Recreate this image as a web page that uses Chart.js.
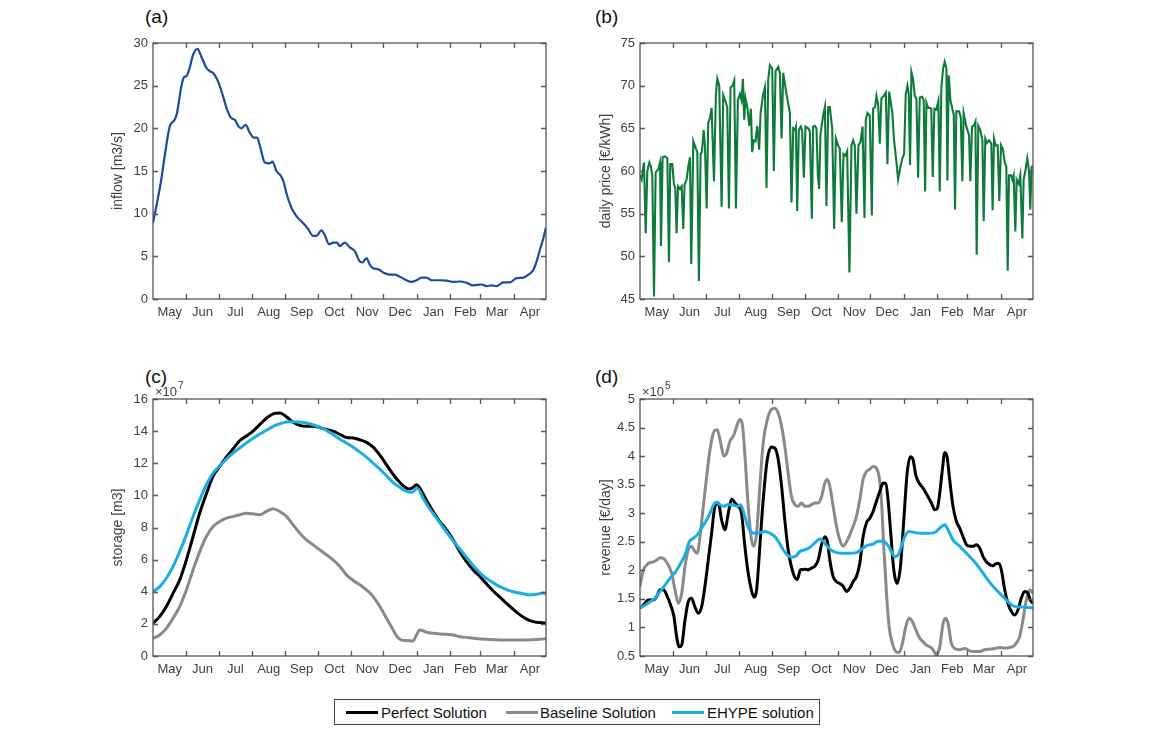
<!DOCTYPE html>
<html>
<head>
<meta charset="utf-8">
<script src="https://cdn.jsdelivr.net/npm/chart.js@4.4.1/dist/chart.umd.min.js"></script>
<style>
  html, body { margin:0; padding:0; background:#fff; }
  body { width:1150px; height:730px; position:relative; overflow:hidden; font-family:"Liberation Sans", Arial, sans-serif; }
  canvas { position:absolute; }
  .tag { position:absolute; font-size:19px; line-height:22px; color:#111; }
  #legend { position:absolute; left:334px; top:699px; width:486px; height:26px; border:1px solid #444; box-sizing:border-box; background:#fff; }
  #legend .sw { position:absolute; top:11px; height:3px; width:32px; }
  #legend .tx { position:absolute; top:4px; font-size:15px; line-height:18px; color:#111; white-space:nowrap; }
</style>
</head>
<body>
<div class="tag" style="left:145px;top:6px;">(a)</div>
<div class="tag" style="left:595px;top:6px;">(b)</div>
<div class="tag" style="left:145px;top:366px;">(c)</div>
<div class="tag" style="left:595px;top:366px;">(d)</div>
<div id="legend"></div>
<script>
// ---------- axis categories ----------
const monthLabels = ['May','Jun','Jul','Aug','Sep','Oct','Nov','Dec','Jan','Feb','Mar','Apr'];
const monthLengths = [31,30,31,31,30,31,30,31,31,28,31,30];

// ---------- (a) inflow [m3/s] ----------
const inflowDays = [0,3.7,7.7,10.8,15.5,20.1,22.3,26.3,28.8,31.0,34.1,37.2,41.2,44.9,49.6,52.7,56.4,60.4,65.1,68.8,72.8,75.9,79.6,82.1,86.1,89.8,93.6,96.7,99.8,103.8,108.4,110.9,114.6,118.3,121.4,123.9,128.6,133.2,139.4,144.1,148.7,151.8,156.4,159.5,163.6,167.3,171.0,173.5,178.1,182.8,187.4,192.1,194.5,198.3,201.4,204.5,209.1,213.8,220.0,224.6,229.3,235.4,240.1,244.7,249.4,254.0,258.7,266.4,272.6,278.8,285.0,291.2,297.4,305.2,309.8,314.4,319.1,325.3,331.5,337.7,343.9,348.5,353.2,356.3,359.4,362.5,365];
const inflowValues = [8.9,11.25,14.0,16.7,20.2,21.0,21.8,24.9,26.0,26.1,27.1,28.6,29.3,28.4,27.1,26.7,26.4,25.5,23.75,22.2,21.2,21.0,20.2,20.0,20.4,19.5,18.9,18.9,17.7,16.0,15.9,16.1,15.0,14.5,13.7,12.4,10.7,9.7,8.9,8.2,7.4,7.4,8.05,7.5,6.4,6.6,6.6,6.2,6.6,6.05,5.6,4.4,4.3,4.8,4.0,3.6,3.5,3.1,2.85,2.85,2.6,2.2,2.0,2.2,2.5,2.5,2.2,2.2,2.15,2.0,2.05,1.9,1.6,1.7,1.5,1.6,1.5,1.95,1.95,2.45,2.5,2.85,3.4,4.4,5.8,7.1,8.4];

// ---------- (b) daily price [€/kWh] ----------
const priceDays = [0,1.5,3.7,5.3,6.8,8.7,10.2,11.4,13.0,14.5,17.0,18.6,19.5,21.0,23.2,25.4,26.9,28.1,30.0,31.5,32.8,34.0,35.3,37.1,38.7,40.2,41.4,43.3,44.8,46.4,47.6,49.5,52.0,53.2,54.7,56.3,57.5,59.1,60.3,61.9,63.4,65.0,66.5,68.7,70.5,71.8,73.6,75.8,77.3,79.8,81.0,82.6,84.1,86.0,87.5,89.1,90.9,92.8,94.3,95.6,96.8,98.0,99.9,101.5,103.0,104.2,105.5,107.3,108.9,110.7,112.0,114.4,116.0,117.5,119.1,120.6,122.8,124.3,125.9,128.4,129.9,131.5,133.0,136.1,139.2,140.7,142.3,143.8,144.8,146.0,147.5,149.4,150.6,152.2,153.7,156.2,157.7,159.6,160.8,162.4,163.9,165.2,166.4,167.6,170.1,171.7,173.2,174.8,176.3,178.5,180.3,181.9,184.0,185.6,187.4,189.0,190.8,192.4,194.5,196.4,198.0,199.5,201.0,202.9,204.8,206.7,208.5,209.7,211.3,213.4,215.3,216.5,218.4,219.6,221.2,222.7,224.2,226.4,228.3,229.8,231.4,232.9,234.4,235.7,236.9,238.2,239.7,241.9,243.7,245.3,246.8,248.4,249.6,250.8,252.1,253.6,255.2,256.7,258.3,259.8,262.0,263.5,264.8,266.0,267.5,269.1,270.5,271.9,273.4,275.3,277.1,278.4,279.9,281.5,283.0,284.6,285.5,286.7,288.3,290.1,291.4,292.6,293.8,296.3,297.9,299.4,300.6,303.1,305.6,306.8,308.4,309.9,311.5,312.7,314.2,316.1,318.0,319.2,320.7,322.3,324.2,326.3,327.5,328.8,330.3,332.2,333.7,335.3,337.1,338.7,340.2,341.5,342.7,344.6,345.8,347.0,348.6,349.8,351.7,353.2,355.1,356.3,357.9,359.7,361.3,362.5,363.7,365];
const priceValues = [59.5,59,61,52.7,60,61,60.5,59.5,45.3,59.8,60.2,61,51.2,61.6,61.7,61.5,49.3,60.8,60.8,58.5,57.9,52.7,58.2,57.9,58.2,53.2,58.4,59,60.5,61.6,49.1,63.5,62.6,62.2,47.1,62,62.2,64.8,63,55.6,65.7,66.2,67.4,58.8,69,70.8,70,55.8,68.9,68,67.5,55.6,69.8,70,70.6,55.6,68.3,69,68.3,70.8,66,68.5,67.3,65.3,67.3,62.2,63.6,63.5,65.3,62.5,66.8,69,69.8,58,70.7,72.4,72,60,71.7,72.2,71.5,63.8,71.5,69,66.8,56.3,65,64.8,65.2,55.3,64.8,65.2,64.7,59.2,65.2,65,64.7,54.4,65.2,65.3,65,59.5,57.9,64.3,66.5,67.5,55.9,67.5,67.5,65,53.2,63.8,63,62.6,54,62,61.8,62.3,48.1,63,63.6,63,55,63,63.4,65.2,54.5,66,66.8,66.5,54.8,67.3,67.5,68.8,67.8,63.2,68.5,68.8,69.2,60.8,69.3,68,66.8,64,62.5,61,59,60.5,61.5,62,69,70,69,60.7,71.6,70.8,68.8,68.5,59.2,68.6,68.7,68.3,57.6,68,67.4,67.4,67.3,59.3,67.3,67.2,68.2,57.6,69.8,72,72.8,72,58.9,71.2,68.3,67.3,66.6,55.5,67,67,66.3,58.8,66.8,65.2,64.2,58.8,65.2,65.3,65.8,50.2,65.3,64.8,63.6,54.1,63.8,63.3,63.6,63.2,55.4,63.8,63,63,56.5,63,62.5,61,60.5,48.3,59.5,59.5,59,59.5,52.9,59,58.5,59.5,52.1,59,60,61.5,60,55.5,60.5,60.5];

// ---------- (c) storage [m3] (x 1e7) ----------
const storagePerfectDays = [0,6.2,12.4,18.6,24.8,31.0,37.2,43.4,49.6,55.8,62.0,68.2,74.4,80.5,86.7,92.9,99.1,105.3,111.5,117.7,123.9,130.1,136.3,142.5,148.7,154.9,161.1,167.3,173.5,179.7,185.9,192.1,198.3,204.5,210.7,216.9,223.1,229.3,235.4,238.5,241.6,244.7,247.8,254.0,260.2,266.4,272.6,278.8,285.0,291.2,297.4,303.6,309.8,316.0,322.2,328.4,334.6,340.8,347.0,353.2,359.4,365];
const storagePerfect = [2.04,2.45,3.08,3.9,4.74,5.98,7.44,8.9,10.1,11.2,11.8,12.4,12.9,13.4,13.7,14.0,14.4,14.8,15.07,15.13,14.9,14.55,14.36,14.3,14.3,14.23,14.1,14.0,13.8,13.6,13.57,13.46,13.3,13.0,12.5,11.9,11.3,10.8,10.45,10.4,10.5,10.66,10.45,9.7,9.0,8.37,7.85,7.23,6.5,5.88,5.36,4.95,4.49,4.05,3.66,3.28,2.9,2.56,2.3,2.14,2.08,2.04];
const storageBaselineDays = [0,6.2,12.4,18.6,24.8,31.0,37.2,43.4,49.6,55.8,62.0,68.2,74.4,80.5,86.7,92.9,99.1,105.3,111.5,117.7,123.9,130.1,136.3,142.5,148.7,154.9,161.1,167.3,173.5,179.7,185.9,192.1,198.3,204.5,210.7,216.9,223.1,226.2,229.3,235.4,241.6,244.7,247.8,254.0,260.2,266.4,272.6,278.8,285.0,291.2,297.4,309.8,322.2,334.6,347.0,359.4,365];
const storageBaseline = [1.1,1.31,1.72,2.35,3.08,4.11,5.36,6.5,7.44,8.06,8.37,8.58,8.69,8.79,8.89,8.85,8.79,9.0,9.16,9.0,8.69,8.17,7.65,7.23,6.92,6.61,6.3,5.98,5.57,5.05,4.7,4.43,4.11,3.7,3.08,2.35,1.62,1.25,1.04,0.96,0.94,1.31,1.62,1.48,1.41,1.37,1.35,1.31,1.2,1.16,1.1,1.04,1.0,1.0,1.0,1.04,1.08];
const storageEhypeDays = [0,6.2,12.4,18.6,24.8,31.0,37.2,43.4,49.6,55.8,62.0,68.2,74.4,80.5,86.7,92.9,99.1,105.3,111.5,117.7,123.9,130.1,136.3,142.5,148.7,154.9,161.1,167.3,173.5,179.7,185.9,192.1,198.3,204.5,210.7,216.9,223.1,229.3,235.4,241.0,245.5,250.9,257.1,263.3,269.5,275.7,281.9,288.1,294.3,300.5,306.7,312.9,319.1,325.3,331.5,337.7,343.9,350.1,356.3,360.9,365];
const storageEhype = [4.0,4.32,4.84,5.57,6.5,7.54,8.69,9.72,10.66,11.39,11.84,12.26,12.63,12.95,13.26,13.55,13.82,14.05,14.3,14.46,14.57,14.59,14.57,14.5,14.4,14.23,14.05,13.78,13.5,13.26,13.0,12.7,12.38,12.0,11.64,11.22,10.8,10.5,10.25,10.2,10.45,9.8,9.15,8.58,8.0,7.44,6.92,6.4,5.88,5.4,4.99,4.68,4.43,4.22,4.05,3.95,3.87,3.8,3.84,3.9,3.9];

// ---------- (d) revenue [€/day] (x 1e5) ----------
const revPerfectDays = [0,3.1,7.7,12.4,15.5,18.6,21.7,25.4,28.5,31.5,34.0,36.5,38.7,41.8,44.8,47.9,51.0,54.1,57.2,60.3,63.4,66.5,69.6,72.7,75.8,78.9,82.0,85.1,88.2,91.2,94.3,96.8,99.6,102.7,105.8,108.3,111.3,114.4,118.2,122.2,125.3,128.4,131.5,134.5,137.6,142.3,146.0,149.1,153.1,156.2,159.3,162.4,165.5,168.6,171.7,174.1,176.3,179.4,182.5,185.6,188.7,191.8,194.9,197.9,201.0,204.1,207.2,210.3,213.4,216.5,219.6,222.7,225.8,228.3,230.4,232.9,235.7,238.8,241.9,245.0,248.1,251.1,253.6,256.1,259.2,262.9,266.6,270.6,273.7,276.2,278.4,280.8,283.0,285.2,287.6,290.7,293.8,296.9,300.0,303.1,306.2,309.3,312.4,315.5,318.6,321.7,324.8,327.9,330.9,333.4,335.6,338.7,341.8,344.9,348.0,351.1,354.1,357.2,360.3,362.5,365];
const revPerfect = [1.34,1.39,1.48,1.48,1.54,1.66,1.66,1.54,1.39,1.19,0.84,0.66,0.69,1.13,1.45,1.51,1.36,1.25,1.36,1.72,2.18,2.65,3.12,3.18,2.88,2.71,3.0,3.25,3.18,3.12,3.0,2.53,2.07,1.72,1.53,1.66,2.42,3.23,3.94,4.16,4.14,3.94,3.47,2.88,2.36,1.95,1.84,2.01,2.02,2.01,2.04,2.07,2.18,2.45,2.59,2.5,2.18,1.89,1.8,1.77,1.72,1.63,1.69,1.8,1.89,2.12,2.59,2.83,2.91,3.03,3.21,3.38,3.53,3.52,3.23,2.65,2.01,1.77,2.07,2.88,3.7,3.99,3.94,3.67,3.53,3.44,3.32,3.18,3.06,3.09,3.35,3.76,4.06,3.99,3.59,3.12,2.86,2.74,2.59,2.45,2.42,2.42,2.45,2.39,2.24,2.15,2.1,2.08,2.12,2.12,2.01,1.66,1.42,1.28,1.22,1.31,1.51,1.63,1.6,1.48,1.42];
const revBaselineDays = [0,3.1,7.7,12.4,15.5,18.6,21.7,25.4,29.4,32.5,35.6,38.7,41.8,44.8,47.9,51.0,53.2,55.7,58.8,61.9,65.0,68.7,71.8,74.9,77.9,80.4,83.5,87.2,89.7,92.8,95.3,97.7,100.5,103.6,105.8,108.3,111.3,114.4,118.2,122.2,125.3,128.4,131.5,134.5,137.6,140.7,143.8,146.9,150.0,153.1,156.2,159.3,162.4,165.5,168.6,171.7,174.1,176.3,179.4,182.5,185.6,188.7,191.8,194.9,197.9,201.0,204.1,207.2,210.3,213.4,216.5,219.6,222.1,224.2,226.4,228.9,231.4,234.4,237.5,240.6,243.7,246.8,249.9,253.0,256.1,259.8,262.9,266.0,269.1,272.2,275.3,278.4,281.5,283.9,286.1,289.2,292.3,296.9,301.6,306.2,310.8,315.5,320.1,324.8,329.4,334.0,338.7,343.3,348.0,352.6,355.7,358.8,361.9,365];
const revBaseline = [1.72,2.0,2.12,2.15,2.18,2.22,2.21,2.12,1.95,1.66,1.42,1.6,2.07,2.36,2.42,2.33,2.3,2.59,3.12,3.64,4.11,4.43,4.46,4.23,4.0,4.05,4.26,4.37,4.52,4.64,4.52,3.94,3.12,2.53,2.42,2.65,3.47,4.23,4.64,4.82,4.84,4.75,4.52,4.17,3.7,3.29,3.15,3.12,3.18,3.12,3.12,3.15,3.18,3.18,3.29,3.53,3.59,3.47,3.12,2.77,2.53,2.42,2.5,2.62,2.77,2.94,3.23,3.59,3.73,3.77,3.82,3.79,3.64,3.23,2.42,1.6,1.01,0.72,0.58,0.56,0.72,1.01,1.16,1.1,0.96,0.81,0.75,0.69,0.66,0.61,0.52,0.66,1.07,1.16,1.07,0.72,0.63,0.61,0.63,0.59,0.58,0.58,0.61,0.62,0.63,0.65,0.64,0.65,0.69,0.84,1.13,1.48,1.66,1.6];
const revEhypeDays = [0,4.6,9.3,13.9,18.6,23.2,27.8,32.5,37.1,41.8,45.8,49.5,53.2,57.2,61.9,65.6,68.7,71.8,74.9,77.9,81.0,84.1,87.2,90.3,93.4,96.5,99.6,102.7,106.7,111.3,116.0,120.6,125.3,129.3,133.0,136.7,140.7,144.8,148.5,153.1,157.7,162.4,167.0,170.1,173.8,177.8,182.5,188.7,194.9,201.0,205.7,210.3,216.5,221.1,225.8,229.8,233.5,236.6,239.7,242.8,245.9,249.9,255.2,261.4,267.5,273.7,278.4,283.0,286.1,290.7,295.4,300.0,306.2,312.4,318.6,324.8,330.9,337.1,341.8,346.4,351.1,355.7,360.3,365];
const revEhype = [1.34,1.39,1.45,1.51,1.63,1.74,1.86,1.96,2.1,2.27,2.5,2.56,2.62,2.74,2.88,3.03,3.16,3.19,3.14,3.12,3.15,3.15,3.14,3.12,3.15,3.0,2.8,2.68,2.65,2.66,2.68,2.65,2.59,2.48,2.36,2.27,2.23,2.25,2.33,2.36,2.4,2.48,2.55,2.51,2.42,2.35,2.31,2.3,2.3,2.31,2.37,2.43,2.46,2.51,2.51,2.45,2.33,2.24,2.27,2.42,2.59,2.68,2.66,2.65,2.65,2.66,2.74,2.8,2.71,2.53,2.45,2.36,2.24,2.11,1.95,1.79,1.66,1.54,1.45,1.38,1.36,1.36,1.35,1.34];

// ---------- styles ----------
const FONT = '"Liberation Sans", Arial, sans-serif';
const AXIS_COLOR = '#555555';
const TEXT_COLOR = '#404040';
const C_INFLOW = '#1d4b9d';
const C_PRICE = '#0e7a3c';
const C_PERFECT = '#000000';
const C_BASELINE = '#8a8a8a';
const C_EHYPE = '#1aaee5';

// month boundaries and centres (day index from 1 May)
const monthStarts = [];
const monthMids = [];
{ let s = 0; monthLengths.forEach(len => { monthStarts.push(s); monthMids.push(s + len / 2); s += len; }); monthStarts.push(s); }

const pts = (xs, ys) => xs.map((x, i) => ({ x, y: ys[i] }));

const frameTicks = {
  id: 'frameTicks',
  afterDatasetsDraw(chart, args, opts) {
    const { ctx, chartArea: a, scales: { x, y } } = chart;
    const TL = 5;
    ctx.save();
    ctx.strokeStyle = AXIS_COLOR;
    ctx.lineWidth = 1.3;
    ctx.beginPath();
    monthStarts.slice(1, -1).forEach(d => {
      const px = Math.round(x.getPixelForValue(d)) + 0.5;
      ctx.moveTo(px, a.bottom); ctx.lineTo(px, a.bottom - TL);
      ctx.moveTo(px, a.top); ctx.lineTo(px, a.top + TL);
    });
    y.ticks.forEach(t => {
      const py = Math.round(y.getPixelForValue(t.value)) + 0.5;
      ctx.moveTo(a.left, py); ctx.lineTo(a.left + TL, py);
      ctx.moveTo(a.right, py); ctx.lineTo(a.right - TL, py);
    });
    ctx.stroke();
    ctx.strokeRect(a.left, a.top, a.right - a.left, a.bottom - a.top);
    if (opts && opts.exp) {
      ctx.fillStyle = TEXT_COLOR;
      ctx.textBaseline = 'alphabetic';
      ctx.textAlign = 'left';
      ctx.font = '13px ' + FONT;
      const base = '\u00d710';
      ctx.fillText(base, a.left + 2, a.top - 3);
      const w = ctx.measureText(base).width;
      ctx.font = '10px ' + FONT;
      ctx.fillText(opts.exp, a.left + 2 + w + 1, a.top - 10);
    }
    ctx.restore();
  }
};

function makePanel(p) {
  const cv = document.createElement('canvas');
  cv.width = p.w; cv.height = p.h;
  cv.style.left = p.left + 'px'; cv.style.top = p.top + 'px';
  cv.style.width = p.w + 'px'; cv.style.height = p.h + 'px';
  document.body.appendChild(cv);
  new Chart(cv.getContext('2d'), {
    type: 'line',
    data: { datasets: p.datasets },
    plugins: [frameTicks],
    options: {
      responsive: false,
      animation: false,
      devicePixelRatio: 1,
      layout: { padding: p.pad },
      elements: { point: { radius: 0 } },
      plugins: { legend: { display: false }, tooltip: { enabled: false }, frameTicks: { exp: p.exp } },
      scales: {
        x: {
          type: 'linear', min: 0, max: 365,
          grid: { display: false, drawTicks: false },
          border: { display: false },
          afterBuildTicks: s => { s.ticks = monthMids.map(v => ({ value: v })); },
          ticks: { autoSkip: false, maxRotation: 0, minRotation: 0, padding: 6, color: TEXT_COLOR,
                   font: { family: FONT, size: 13 }, callback: (v, i) => monthLabels[i] },
          afterFit: s => { s.height = 29; s.paddingLeft = 0; s.paddingRight = 0; }
        },
        y: {
          min: p.ymin, max: p.ymax,
          grid: { display: false, drawTicks: false },
          border: { display: false },
          ticks: { stepSize: p.ystep, padding: 5, color: TEXT_COLOR, font: { family: FONT, size: 13 },
                   callback: v => String(Math.round(v * 100) / 100) },
          title: { display: true, text: p.ytitle, color: TEXT_COLOR, font: { family: FONT, size: 14 }, padding: { top: 2, bottom: 4 } },
          afterFit: s => { s.width = p.yWidth; }
        }
      }
    }
  });
}

const lineDs = (data, color, width, order, smooth) => ({
  data, borderColor: color, borderWidth: width, fill: false, order,
  cubicInterpolationMode: smooth ? 'monotone' : 'default', tension: 0
});

makePanel({ left: 100, top: 28, w: 452, h: 300, pad: { left: 8, top: 15, right: 6, bottom: 0 }, yWidth: 45,
  ymin: 0, ymax: 30, ystep: 5, ytitle: 'inflow [m3/s]',
  datasets: [lineDs(pts(inflowDays, inflowValues), C_INFLOW, 2.2, 0, true)] });

makePanel({ left: 588, top: 28, w: 451, h: 300, pad: { left: 8, top: 15, right: 6, bottom: 0 }, yWidth: 44,
  ymin: 45, ymax: 75, ystep: 5, ytitle: 'daily price [\u20ac/kWh]',
  datasets: [lineDs(pts(priceDays, priceValues), C_PRICE, 2.1, 0, false)] });

makePanel({ left: 100, top: 378, w: 452, h: 307, pad: { left: 8, top: 21, right: 6, bottom: 0 }, yWidth: 45,
  ymin: 0, ymax: 16, ystep: 2, ytitle: 'storage [m3]', exp: '7',
  datasets: [
    lineDs(pts(storageEhypeDays, storageEhype), C_EHYPE, 3, 0, true),
    lineDs(pts(storagePerfectDays, storagePerfect), C_PERFECT, 3, 1, true),
    lineDs(pts(storageBaselineDays, storageBaseline), C_BASELINE, 3, 2, true)
  ] });

makePanel({ left: 588, top: 378, w: 451, h: 307, pad: { left: 8, top: 21, right: 6, bottom: 0 }, yWidth: 44,
  ymin: 0.5, ymax: 5, ystep: 0.5, ytitle: 'revenue [\u20ac/day]', exp: '5',
  datasets: [
    lineDs(pts(revEhypeDays, revEhype), C_EHYPE, 3, 0, true),
    lineDs(pts(revPerfectDays, revPerfect), C_PERFECT, 3, 1, true),
    lineDs(pts(revBaselineDays, revBaseline), C_BASELINE, 3, 2, true)
  ] });

// legend
const legendItems = [
  { label: 'Perfect Solution', color: C_PERFECT, sw: 11, tx: 46 },
  { label: 'Baseline Solution', color: C_BASELINE, sw: 171, tx: 205 },
  { label: 'EHYPE solution', color: C_EHYPE, sw: 337, tx: 372 }
];
const lg = document.getElementById('legend');
legendItems.forEach(it => {
  const s = document.createElement('div'); s.className = 'sw';
  s.style.left = it.sw + 'px'; s.style.background = it.color; lg.appendChild(s);
  const t = document.createElement('div'); t.className = 'tx';
  t.style.left = it.tx + 'px'; t.textContent = it.label; lg.appendChild(t);
});
</script>
</body>
</html>
